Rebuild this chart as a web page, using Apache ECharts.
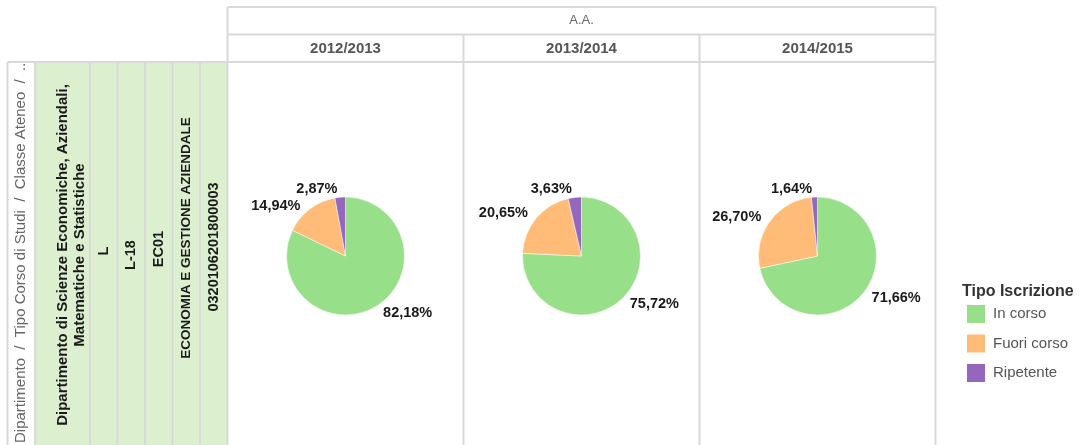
<!DOCTYPE html>
<html>
<head>
<meta charset="utf-8">
<script src="https://cdn.jsdelivr.net/npm/echarts@6/dist/echarts.min.js"></script>
<style>
  html, body { margin: 0; padding: 0; background: #fff; }
  #chart { width: 1079px; height: 445px; }
</style>
</head>
<body>
<div id="chart"></div>
<script>
// dati
const anni = ['2012/2013', '2013/2014', '2014/2015']
const tipiIscrizione = ['In corso', 'Fuori corso', 'Ripetente']
const inCorso = [82.18, 75.72, 71.66]
const fuoriCorso = [14.94, 20.65, 26.70]
const ripetente = [2.87, 3.63, 1.64]
const intestazioneRighe = 'Dipartimento  /  Tipo Corso di Studi  /  Classe Ateneo  /  ..'
const campiRiga = [
  ['Dipartimento di Scienze Economiche, Aziendali,', 'Matematiche e Statistiche'],
  ['L'],
  ['L-18'],
  ['EC01'],
  ['ECONOMIA E GESTIONE AZIENDALE'],
  ['0320106201800003']
]

const colori = ['#98df8a', '#ffbb78', '#9467bd']
const font = "'Liberation Sans', Arial, sans-serif"
const bordo = '#d9d9d9'

// layout della tabella
const xTab = 227.5, xFine = 935.5, colW = 236
const yTop = 7, yMid = 34.5, yHead = 62, yBot = 445
const xLeft = 7.5, xVerde = 35
const colLeft = [35, 90, 117.5, 145, 172.5, 200, 227.5]
const yCampi = [255, 251, 255, 249, 238, 247]
const fontCampi = [15, 14.5, 14.5, 14.5, 13.5, 14.5]
const cy = 256

const chart = echarts.init(document.getElementById('chart'))

const graphic = []
// sfondo verde celle riga
graphic.push({ type: 'rect', shape: { x: xVerde, y: yHead, width: xTab - xVerde, height: yBot - yHead + 10 },
  style: { fill: '#dcf0d0' }, z: 0 })

const linea = (x1, y1, x2, y2) => graphic.push({ type: 'line', shape: { x1, y1, x2, y2 },
  style: { stroke: bordo, lineWidth: 2 }, z: 1 })
linea(xTab, yTop, xFine, yTop)
linea(xTab, yMid, xFine, yMid)
linea(xLeft, yHead, xFine, yHead)
linea(xTab, yTop, xTab, yBot + 5)
linea(xFine, yTop, xFine, yBot + 5)
linea(xLeft, yHead, xLeft, yBot + 5)
for (let i = 1; i < anni.length; i++) linea(xTab + colW * i, yMid, xTab + colW * i, yBot + 5)
colLeft.slice(0, -1).forEach(x => linea(x, yHead, x, yBot + 5))

graphic.push({ type: 'text', x: (xTab + xFine) / 2, y: (yTop + yMid) / 2,
  style: { text: 'A.A.', font: '13px ' + font, fill: '#666', align: 'center', verticalAlign: 'middle' }, z: 2 })
anni.forEach((a, i) => graphic.push({ type: 'text', x: xTab + colW * (i + 0.5), y: (yMid + yHead) / 2 + 1,
  style: { text: a, font: 'bold 15px ' + font, fill: '#555', align: 'center', verticalAlign: 'middle' }, z: 2 }))

graphic.push({ type: 'text', x: 21, y: 443, rotation: Math.PI / 2,
  style: { text: intestazioneRighe, font: '15px ' + font, fill: '#666', align: 'left', verticalAlign: 'middle' }, z: 2 })

campiRiga.forEach((righe, i) => {
  const cx = (colLeft[i] + colLeft[i + 1]) / 2 + (righe.length > 1 ? 9 : 0)
  graphic.push({ type: 'text', x: cx, y: yCampi[i], rotation: Math.PI / 2,
    style: { text: righe.join('\n'), font: 'bold ' + fontCampi[i] + 'px ' + font, fill: '#1a1a1a',
      align: 'center', verticalAlign: 'middle', lineHeight: 17 }, z: 2 })
})

graphic.push({ type: 'text', x: 962, y: 292,
  style: { text: 'Tipo Iscrizione', font: 'bold 16px ' + font, fill: '#333', align: 'left', verticalAlign: 'middle' }, z: 2 })

const series = anni.map((a, i) => ({
  type: 'pie',
  name: a,
  center: [xTab + colW * (i + 0.5), cy],
  radius: 59,
  startAngle: 90,
  clockwise: true,
  avoidLabelOverlap: true,
  silent: true,
  itemStyle: { borderColor: '#fff', borderWidth: 0.5 },
  label: {
    show: true,
    position: 'outside',
    formatter: p => p.value.toFixed(2).replace('.', ',') + '%',
    fontFamily: font,
    fontSize: 14.5,
    fontWeight: 'bold',
    color: '#1a1a1a',
    distanceToLabelLine: 2
  },
  labelLayout: { hideOverlap: false },
  labelLine: { show: false, length: 8, length2: 0 },
  data: tipiIscrizione.map((t, k) => ({ name: t, value: [inCorso, fuoriCorso, ripetente][k][i] }))
}))

chart.setOption({
  animation: false,
  color: colori,
  legend: {
    data: tipiIscrizione,
    orient: 'vertical',
    left: 965,
    top: 303,
    padding: 0,
    icon: 'rect',
    itemWidth: 20,
    itemHeight: 20,
    itemGap: 7.5,
    selectedMode: false,
    textStyle: { fontFamily: font, fontSize: 15, color: '#555', padding: [0, 0, 0, 2] }
  },
  graphic: graphic,
  series: series
})
</script>
</body>
</html>
